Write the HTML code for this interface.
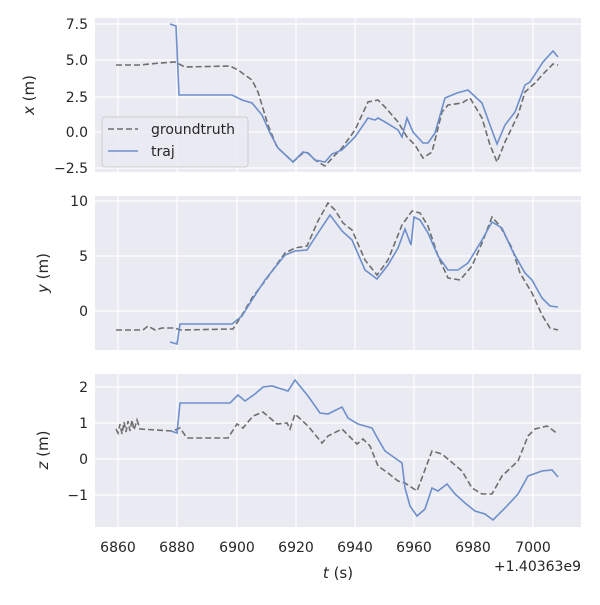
<!DOCTYPE html>
<html><head><meta charset="utf-8"><style>body{margin:0;background:#fff}</style></head><body>
<svg width="600" height="600" xmlns="http://www.w3.org/2000/svg" font-family="DejaVu Sans, Liberation Sans, sans-serif" fill="#262626">
<defs>
<g id="vg" stroke="#fff" stroke-width="1.2">
<line x1="118" y1="0" x2="118" y2="155"/><line x1="177" y1="0" x2="177" y2="155"/><line x1="237" y1="0" x2="237" y2="155"/><line x1="296" y1="0" x2="296" y2="155"/><line x1="355" y1="0" x2="355" y2="155"/><line x1="414" y1="0" x2="414" y2="155"/><line x1="473" y1="0" x2="473" y2="155"/><line x1="533" y1="0" x2="533" y2="155"/>
</g>
</defs>
<!-- panel 1 -->
<rect x="95" y="18" width="486" height="154" fill="#eaeaf2"/>
<use href="#vg" y="18"/>
<g stroke="#fff" stroke-width="1.2">
<line x1="95" x2="581" y1="24" y2="24"/><line x1="95" x2="581" y1="60" y2="60"/><line x1="95" x2="581" y1="97" y2="97"/><line x1="95" x2="581" y1="132" y2="132"/><line x1="95" x2="581" y1="168" y2="168"/>
</g>
<polyline fill="none" stroke="#6e6e6e" stroke-width="1.6" stroke-dasharray="6,3" points="116,65 140,65 160,63 175,62 185,67 230,66 238,70 252,80 258,92 268,125 277,147 293,162 303,153 308,153 315,160 325,166 335,155 342,148 355,130 368,102 378,100 385,107 398,122 407,137 415,145 423,158 432,152 442,112 448,105 462,103 470,98 482,118 490,145 497,162 505,142 518,115 525,92 535,83 545,72 553,64 558,65"/>
<polyline fill="none" stroke="#6d8fcb" stroke-width="1.6" points="170,24 176,26 179,95 232,95 242,100 252,103 262,115 270,133 278,148 293,162 303,152 308,153 315,160 325,162 332,154 342,150 355,137 368,118 375,120 378,118 385,122 398,130 402,137 407,118 413,132 423,143 428,143 435,133 445,98 457,93 468,90 482,103 490,125 497,144 505,125 515,112 525,85 530,82 543,62 553,51 558,57"/>
<rect x="102" y="117" width="146" height="50" rx="3" fill="#eaeaf2" fill-opacity="0.8" stroke="#ccc"/>
<line x1="108" y1="129" x2="138" y2="129" stroke="#6e6e6e" stroke-width="1.6" stroke-dasharray="6,3"/>
<line x1="108" y1="151" x2="138" y2="151" stroke="#6d8fcb" stroke-width="1.6"/>
<text x="151" y="134" font-size="14">groundtruth</text>
<text x="151" y="156" font-size="14">traj</text>
<g font-size="14" text-anchor="end">
<text x="88" y="29">7.5</text><text x="88" y="65">5.0</text><text x="88" y="102">2.5</text><text x="88" y="137">0.0</text><text x="88" y="173">−2.5</text>
</g>
<text transform="translate(34,95) rotate(-90)" font-size="15" text-anchor="middle"><tspan font-style="italic">x</tspan> (m)</text>

<!-- panel 2 -->
<rect x="95" y="196" width="486" height="154" fill="#eaeaf2"/>
<use href="#vg" y="196"/>
<g stroke="#fff" stroke-width="1.2">
<line x1="95" x2="581" y1="201" y2="201"/><line x1="95" x2="581" y1="256" y2="256"/><line x1="95" x2="581" y1="311" y2="311"/>
</g>
<polyline fill="none" stroke="#6e6e6e" stroke-width="1.6" stroke-dasharray="6,3" points="116,330 143,330 148,326 155,330 162,328 175,328 180,330 233,329 242,315 252,298 265,281 285,253 295,248 307,246 318,221 328,203 335,210 343,223 352,230 365,260 377,275 388,260 402,225 412,211 420,213 428,226 438,256 448,278 460,280 472,266 482,243 492,217 500,226 512,248 520,273 532,293 542,315 550,328 558,330"/>
<polyline fill="none" stroke="#6d8fcb" stroke-width="1.6" points="170,342 177,344 180,324 232,324 242,316 252,300 265,280 285,255 295,251 307,250 318,233 330,215 342,231 352,240 365,270 377,279 388,265 398,248 405,229 411,245 414,217 420,220 428,233 438,256 448,270 458,270 468,263 482,240 492,222 502,228 512,250 525,273 532,280 542,298 550,306 558,307"/>
<g font-size="14" text-anchor="end">
<text x="88" y="206">10</text><text x="88" y="261">5</text><text x="88" y="316">0</text>
</g>
<text transform="translate(48,273) rotate(-90)" font-size="15" text-anchor="middle"><tspan font-style="italic">y</tspan> (m)</text>

<!-- panel 3 -->
<rect x="95" y="374" width="486" height="153" fill="#eaeaf2"/>
<use href="#vg" y="374"/>
<g stroke="#fff" stroke-width="1.2">
<line x1="95" x2="581" y1="387" y2="387"/><line x1="95" x2="581" y1="423" y2="423"/><line x1="95" x2="581" y1="459" y2="459"/><line x1="95" x2="581" y1="495" y2="495"/>
</g>
<polyline fill="none" stroke="#6e6e6e" stroke-width="1.6" stroke-dasharray="6,3" points="116,429 118,433 120,424 122,434 124,422 126,432 128,421 130,431 132,420 134,430 137,420 140,429 172,431 180,428 187,438 228,438 237,424 243,428 253,416 263,412 277,424 287,423 290,429 295,414 308,426 322,443 328,436 342,429 357,444 363,439 370,446 378,466 388,473 398,481 405,483 417,491 432,451 442,454 462,471 472,488 482,494 492,494 502,476 518,461 528,436 535,429 547,426 558,434"/>
<polyline fill="none" stroke="#6d8fcb" stroke-width="1.6" points="171,431 177,433 180,403 230,403 238,395 245,401 255,394 263,387 272,386 288,391 295,380 308,396 320,413 328,414 342,407 348,418 358,424 372,428 378,439 385,451 402,463 405,488 410,506 417,516 425,509 432,488 438,491 447,484 455,494 465,503 475,511 485,514 493,520 505,508 518,494 528,476 542,471 552,470 558,477"/>
<g font-size="14" text-anchor="end">
<text x="88" y="392">2</text><text x="88" y="428">1</text><text x="88" y="464">0</text><text x="88" y="500">−1</text>
</g>
<text transform="translate(48,450) rotate(-90)" font-size="15" text-anchor="middle"><tspan font-style="italic">z</tspan> (m)</text>

<g font-size="14" text-anchor="middle">
<text x="118" y="552">6860</text><text x="177" y="552">6880</text><text x="237" y="552">6900</text><text x="296" y="552">6920</text><text x="355" y="552">6940</text><text x="414" y="552">6960</text><text x="473" y="552">6980</text><text x="533" y="552">7000</text>
</g>
<text x="338" y="578" font-size="15" text-anchor="middle"><tspan font-style="italic">t</tspan> (s)</text>
<text x="581" y="571" font-size="14" text-anchor="end">+1.40363e9</text>
</svg>
</body></html>
